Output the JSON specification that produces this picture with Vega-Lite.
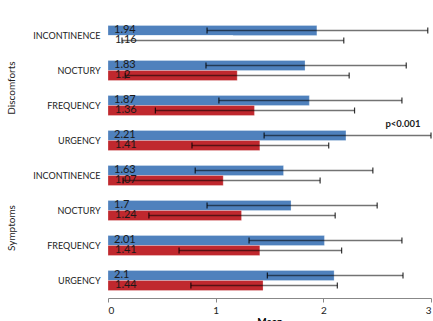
{
  "$schema": "https://vega.github.io/schema/vega-lite/v6.json",
  "padding": {"left": 7, "top": 18, "right": 0, "bottom": 0},
  "background": "white",
  "data": {"values": [
    {"group": "Discomforts", "cat": "INCONTINENCE", "series": "A", "mean": 1.94, "lo": 0.92, "hi": 2.97},
    {"group": "Discomforts", "cat": "INCONTINENCE", "series": "B", "mean": 1.16, "lo": 0.13, "hi": 2.19},
    {"group": "Discomforts", "cat": "NOCTURY", "series": "A", "mean": 1.83, "lo": 0.91, "hi": 2.77},
    {"group": "Discomforts", "cat": "NOCTURY", "series": "B", "mean": 1.2, "lo": 0.16, "hi": 2.24},
    {"group": "Discomforts", "cat": "FREQUENCY", "series": "A", "mean": 1.87, "lo": 1.03, "hi": 2.73},
    {"group": "Discomforts", "cat": "FREQUENCY", "series": "B", "mean": 1.36, "lo": 0.44, "hi": 2.29},
    {"group": "Discomforts", "cat": "URGENCY", "series": "A", "mean": 2.21, "lo": 1.45, "hi": 3.0, "p": "p<0.001"},
    {"group": "Discomforts", "cat": "URGENCY", "series": "B", "mean": 1.41, "lo": 0.78, "hi": 2.05},
    {"group": "Symptoms", "cat": "INCONTINENCE", "series": "A", "mean": 1.63, "lo": 0.81, "hi": 2.46},
    {"group": "Symptoms", "cat": "INCONTINENCE", "series": "B", "mean": 1.07, "lo": 0.14, "hi": 1.97},
    {"group": "Symptoms", "cat": "NOCTURY", "series": "A", "mean": 1.7, "lo": 0.92, "hi": 2.5},
    {"group": "Symptoms", "cat": "NOCTURY", "series": "B", "mean": 1.24, "lo": 0.38, "hi": 2.11},
    {"group": "Symptoms", "cat": "FREQUENCY", "series": "A", "mean": 2.01, "lo": 1.31, "hi": 2.73},
    {"group": "Symptoms", "cat": "FREQUENCY", "series": "B", "mean": 1.41, "lo": 0.66, "hi": 2.17},
    {"group": "Symptoms", "cat": "URGENCY", "series": "A", "mean": 2.1, "lo": 1.48, "hi": 2.74},
    {"group": "Symptoms", "cat": "URGENCY", "series": "B", "mean": 1.44, "lo": 0.77, "hi": 2.13}
  ]},
  "facet": {
    "row": {
      "field": "group", "type": "nominal", "sort": ["Discomforts", "Symptoms"],
      "header": {"title": null, "labelOrient": "left", "labelAngle": -90, "labelFontSize": 10, "labelFont": "Lato", "labelColor": "#222", "labelPadding": 10}
    }
  },
  "spacing": 0,
  "resolve": {"scale": {"y": "independent"}},
  "spec": {
    "width": 323,
    "height": 140,
    "encoding": {
      "y": {
        "field": "cat", "type": "nominal",
        "sort": ["INCONTINENCE", "NOCTURY", "FREQUENCY", "URGENCY"],
        "scale": {"type": "band", "paddingInner": 0.43, "paddingOuter": 0.215},
        "axis": {"title": null, "ticks": false, "domain": false, "labelPadding": 8, "labelFontSize": 9, "labelFont": "Lato", "labelColor": "#222"}
      }
    },
    "layer": [
      {
        "transform": [{"filter": "datum.series == 'A'"}],
        "layer": [
          {
            "mark": {"type": "bar", "height": 10, "yOffset": -5, "fill": "#4F81BD", "stroke": "white", "strokeOpacity": 0.5, "strokeWidth": 0.5},
            "encoding": {
              "x": {
                "field": "mean", "type": "quantitative",
                "scale": {"domain": [0, 3], "nice": false},
                "axis": {"values": [0, 1, 2, 3], "format": "d", "grid": false, "title": "Mean", "titleFont": "Lato", "titleFontSize": 10, "titleFontWeight": "bold", "titlePadding": 1, "labelFont": "Lato", "labelFontSize": 10, "labelColor": "#222", "domainColor": "#888", "tickColor": "#888", "tickSize": 4, "labelPadding": 3}
              }
            }
          },
          {
            "mark": {"type": "rule", "yOffset": -5, "color": "black", "opacity": 0.55, "strokeWidth": 1.3},
            "encoding": {"x": {"field": "lo", "type": "quantitative"}, "x2": {"field": "hi"}}
          },
          {
            "mark": {"type": "tick", "yOffset": -5, "color": "black", "opacity": 0.8, "size": 6, "thickness": 1.2},
            "encoding": {"x": {"field": "lo", "type": "quantitative"}}
          },
          {
            "mark": {"type": "tick", "yOffset": -5, "color": "black", "opacity": 0.8, "size": 6, "thickness": 1.2},
            "encoding": {"x": {"field": "hi", "type": "quantitative"}}
          },
          {
            "mark": {"type": "text", "align": "left", "baseline": "middle", "dx": 6, "yOffset": -6, "font": "Lato", "fontSize": 11, "color": "#1a1a1a"},
            "encoding": {"x": {"datum": 0}, "text": {"field": "mean", "type": "quantitative"}}
          },
          {
            "transform": [{"filter": "datum.p != null"}],
            "mark": {"type": "text", "align": "center", "baseline": "middle", "yOffset": -17, "font": "Lato", "fontSize": 9.5, "fontWeight": "bold", "color": "#222"},
            "encoding": {"x": {"datum": 2.74}, "text": {"field": "p"}}
          }
        ]
      },
      {
        "transform": [{"filter": "datum.series == 'B'"}],
        "layer": [
          {
            "mark": {"type": "bar", "height": 10, "yOffset": 5, "stroke": "white", "strokeOpacity": 0.5, "strokeWidth": 0.5},
            "encoding": {
              "x": {"field": "mean", "type": "quantitative"},
              "fill": {
                "condition": {"test": "datum.group == 'Discomforts' && datum.cat == 'INCONTINENCE'", "value": "white"},
                "value": "#C0282E"
              }
            }
          },
          {
            "mark": {"type": "rule", "yOffset": 5, "color": "black", "opacity": 0.55, "strokeWidth": 1.3},
            "encoding": {"x": {"field": "lo", "type": "quantitative"}, "x2": {"field": "hi"}}
          },
          {
            "mark": {"type": "tick", "yOffset": 5, "color": "black", "opacity": 0.8, "size": 6, "thickness": 1.2},
            "encoding": {"x": {"field": "lo", "type": "quantitative"}}
          },
          {
            "mark": {"type": "tick", "yOffset": 5, "color": "black", "opacity": 0.8, "size": 6, "thickness": 1.2},
            "encoding": {"x": {"field": "hi", "type": "quantitative"}}
          },
          {
            "mark": {"type": "text", "align": "left", "baseline": "middle", "dx": 7, "yOffset": 4, "font": "Lato", "fontSize": 11, "color": "#1a1a1a"},
            "encoding": {"x": {"datum": 0}, "text": {"field": "mean", "type": "quantitative"}}
          }
        ]
      }
    ]
  },
  "config": {"view": {"stroke": null}}
}
